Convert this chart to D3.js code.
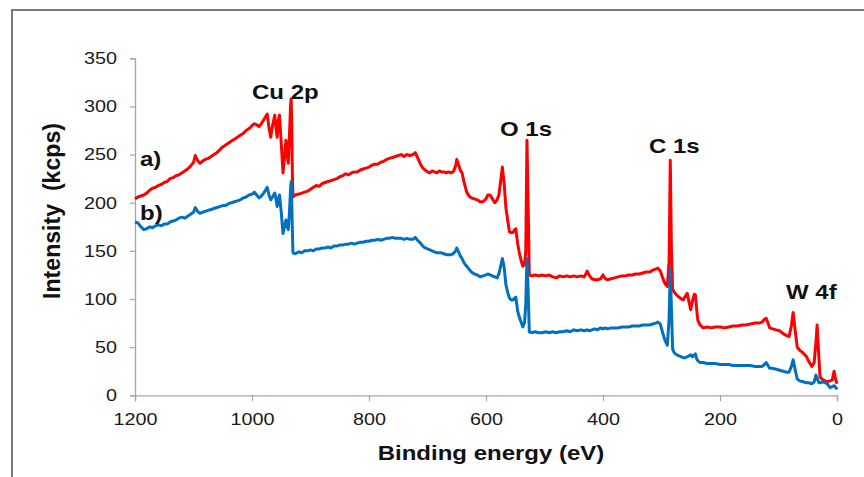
<!DOCTYPE html>
<html>
<head>
<meta charset="utf-8">
<script src="https://cdn.jsdelivr.net/npm/d3@7"></script>
<style>
  html, body { margin: 0; padding: 0; background: #fff; }
  svg { display: block; }
</style>
</head>
<body>
<svg id="chart" width="864" height="477"></svg>
<script>
// XPS survey spectra: a) and b), intensity in kcps versus binding energy in eV
const bindingEnergy = [
  1200, 1195, 1190, 1185, 1180, 1175, 1170, 1165, 1160, 1155,
  1150, 1145, 1140, 1135, 1130, 1125, 1120, 1115, 1110, 1105,
  1100, 1097, 1093, 1089, 1085, 1080, 1075, 1070, 1065, 1060,
  1055, 1050, 1045, 1040, 1035, 1030, 1025, 1020, 1015, 1010,
  1005, 1000, 996, 992, 988, 984, 980, 976, 974, 971,
  968, 965, 961, 959, 957, 955, 953, 950, 947, 944,
  942, 940, 938, 936, 934, 933, 932, 931, 930, 926,
  920, 915, 910, 905, 900, 895, 890, 885, 880, 875,
  870, 865, 860, 855, 850, 845, 840, 835, 830, 825,
  820, 815, 810, 805, 800, 795, 790, 785, 780, 775,
  770, 765, 760, 755, 750, 745, 740, 735, 730, 725,
  721, 717, 712, 708, 704, 700, 696, 692, 688, 684,
  680, 676, 672, 668, 664, 660, 656, 652, 650, 647,
  644, 641, 637, 633, 629, 625, 620, 615, 610, 605,
  600, 597, 593, 589, 585, 581, 578, 575, 572, 569,
  566, 563, 560, 557, 554, 551, 549, 546, 543, 540,
  537, 534, 532, 530, 528, 526, 522, 516, 510, 504,
  498, 492, 486, 480, 474, 468, 462, 456, 450, 444,
  438, 432, 427, 423, 419, 414, 410, 404, 400, 396,
  392, 386, 380, 374, 368, 362, 356, 350, 344, 338,
  332, 326, 320, 315, 310, 306, 302, 298, 294, 290,
  287, 285, 283, 281, 278, 274, 270, 266, 263, 259,
  256, 253, 250, 247, 244, 242, 240, 238, 234, 229,
  222, 215, 208, 200, 192, 185, 178, 170, 162, 155,
  148, 140, 134, 128, 124, 121, 118, 115, 110, 104,
  98, 92, 86, 82, 78, 75, 72, 68, 64, 58,
  52, 48, 43, 39, 36, 34, 31, 29, 24, 17,
  12, 8, 5, 3, 0
];

const intensityA = [
  204, 206, 207, 208, 210, 213, 215, 216, 218, 219,
  221, 222, 225, 226, 228, 229, 231, 233, 235, 238,
  242, 249, 244, 241, 243, 245, 246, 248, 250, 252,
  255, 258, 260, 262, 264, 266, 268, 270, 272, 275,
  277, 280, 282, 281, 279, 282, 286, 290, 292, 278,
  268, 280, 291, 278, 268, 285, 291, 262, 231, 250,
  265, 250, 241, 270, 302, 308, 280, 230, 206, 208,
  209, 210, 211, 212, 214, 216, 218, 217, 220, 221,
  222, 223, 224, 225, 227, 228, 230, 229, 231, 232,
  232, 234, 235, 236, 237, 239, 240, 240, 242, 243,
  245, 246, 247, 248, 249, 250, 248, 250, 249, 250,
  252, 247, 240, 236, 234, 232, 231, 233, 232, 231,
  233, 232, 232, 231, 232, 231, 232, 238, 245, 240,
  234, 231, 220, 211, 207, 205, 204, 203, 201, 201,
  204, 208, 208, 204, 200, 203, 208, 222, 237, 220,
  195, 182, 170, 169, 169, 172, 173, 158, 148, 140,
  134, 136, 150, 265, 200, 125, 124, 125, 124, 125,
  124, 125, 123, 122, 124, 123, 124, 123, 124, 123,
  124, 123, 129, 124, 121, 120, 120, 121, 125, 121,
  120, 121, 122, 123, 124, 124, 125, 125, 126, 126,
  127, 128, 128, 130, 131, 132, 129, 122, 116, 113,
  140, 244, 150, 110, 107, 104, 102, 100, 99, 103,
  106, 97, 89, 98, 105, 104, 90, 78, 73, 70,
  71, 70, 71, 71, 70, 71, 72, 72, 73, 73,
  74, 75, 75, 76, 79, 80, 75, 70, 69, 68,
  67, 64, 62, 61, 72, 86, 70, 50, 47, 44,
  40, 35, 30, 34, 55, 73, 40, 19, 16, 14,
  15, 16, 25, 18, 12
];

const intensityB = [
  180, 179, 175, 172, 173, 175, 174, 176, 177, 176,
  178, 178, 180, 181, 182, 184, 185, 184, 186, 188,
  190, 195, 191, 189, 190, 191, 192, 193, 194, 195,
  196, 197, 197, 199, 200, 201, 202, 203, 205, 206,
  208, 209, 211, 208, 205, 207, 210, 214, 216, 208,
  203, 206, 210, 204, 196, 204, 208, 190, 168, 176,
  182, 176, 172, 190, 215, 222, 200, 170, 148, 147,
  149, 148, 150, 150, 151, 150, 152, 152, 153, 153,
  154, 153, 155, 155, 156, 156, 157, 157, 158, 157,
  158, 159, 159, 160, 160, 161, 161, 162, 161, 162,
  163, 163, 164, 163, 163, 163, 162, 163, 162, 162,
  164, 161, 158, 155, 153, 152, 151, 150, 149, 148,
  148, 148, 147, 146, 146, 146, 147, 150, 153, 149,
  145, 142, 137, 134, 131, 128, 126, 125, 123, 124,
  125, 126, 125, 124, 123, 122, 126, 134, 142, 133,
  115, 107, 101, 99, 99, 101, 102, 88, 81, 76,
  71, 76, 95, 142, 110, 66, 65, 66, 65, 65,
  66, 65, 66, 65, 66, 66, 67, 66, 68, 67,
  68, 67, 68, 67, 68, 69, 68, 70, 69, 70,
  69, 70, 70, 70, 71, 71, 71, 72, 72, 72,
  73, 73, 73, 74, 75, 76, 74, 65, 57, 52,
  80, 132, 90, 48, 44, 42, 41, 40, 39, 39,
  40, 41, 42, 40, 42, 43, 38, 36, 34, 34,
  33, 33, 33, 32, 32, 32, 31, 31, 31, 31,
  31, 30, 30, 30, 32, 34, 31, 28, 28, 27,
  26, 25, 24, 24, 30, 37, 28, 17, 15, 14,
  13, 13, 12, 14, 21, 18, 13, 13, 14, 12,
  8, 9, 10, 9, 6
];

const xTickValues = [1200, 1000, 800, 600, 400, 200, 0];
const yTickValues = [0, 50, 100, 150, 200, 250, 300, 350];
const peakNames = ["Cu 2p", "O 1s", "C 1s", "W 4f"];
const sampleNames = ["a)", "b)"];

// ---- layout ----
const svg = d3.select("#chart");
const FONT = "'Liberation Sans', Arial, Helvetica, sans-serif";
const STRETCH = 1.2;          // horizontal widening of the lettering
const axisColor = "#a6a6a6";
const colorA = "#ff0000";
const colorB = "#0070c0";

// outer frame
svg.append("rect")
  .attr("x", 12).attr("y", 10)
  .attr("width", 880).attr("height", 500)
  .attr("fill", "none")
  .attr("stroke", "#5a5a5a")
  .attr("stroke-width", 1.6);

const x = d3.scaleLinear().domain([1200, 0]).range([135, 837]);
const y = d3.scaleLinear().domain([0, 350]).range([395.3, 58.3]);

// minor ticks
const xMinor = d3.range(0, 1201, 40).filter(v => v % 200 !== 0);
const yMinor = d3.range(0, 351, 10).filter(v => v % 50 !== 0);

const gx = svg.append("g").attr("transform", `translate(0,${y(0)})`);
gx.call(d3.axisBottom(x).tickValues(xMinor).tickSize(4).tickFormat(""));
gx.call(d3.axisBottom(x).tickValues(xTickValues).tickSize(6).tickPadding(12)
  .tickFormat(d3.format("d")));

const gy = svg.append("g").attr("transform", `translate(${x(1200)},0)`);
gy.call(d3.axisLeft(y).tickValues(yMinor).tickSize(3).tickFormat(""));
gy.call(d3.axisLeft(y).tickValues(yTickValues).tickSize(5).tickFormat(d3.format("d")));

[gx, gy].forEach(g => {
  g.selectAll("path.domain").attr("stroke", axisColor).attr("stroke-width", 1.3);
  g.selectAll(".tick line").attr("stroke", axisColor).attr("stroke-width", 1.2);
  g.selectAll(".tick text")
    .attr("fill", "#1a1a1a")
    .style("font-family", FONT)
    .style("font-size", "16.5px");
});
gx.selectAll(".tick text").attr("transform", `scale(${STRETCH},1)`);
gy.selectAll(".tick text")
  .attr("x", -18 / STRETCH)
  .attr("transform", `scale(${STRETCH},1)`);

// spectra: a) underneath, b) on top
const idx = d3.range(bindingEnergy.length);
const lineOf = values => d3.line()
  .x(i => x(bindingEnergy[i]))
  .y(i => y(values[i]));

svg.append("path")
  .attr("d", lineOf(intensityA)(idx))
  .attr("fill", "none")
  .attr("stroke", colorA)
  .attr("stroke-width", 3)
  .attr("stroke-linejoin", "round");

svg.append("path")
  .attr("d", lineOf(intensityB)(idx))
  .attr("fill", "none")
  .attr("stroke", colorB)
  .attr("stroke-width", 3)
  .attr("stroke-linejoin", "round");

// bold lettering, widened horizontally
function label(px, py, txt, anchor) {
  svg.append("text")
    .attr("transform", `translate(${px},${py}) scale(${STRETCH},1)`)
    .attr("text-anchor", anchor || "start")
    .attr("fill", "#111")
    .style("font-family", FONT)
    .style("font-weight", "bold")
    .style("font-size", "20px")
    .text(txt);
}

const peakLabelPos = [[252, 99], [500, 136], [649, 153], [786, 299]];
peakNames.forEach((n, i) => label(peakLabelPos[i][0], peakLabelPos[i][1], n));

const sampleLabelPos = [[140, 166], [140, 220]];
sampleNames.forEach((n, i) => label(sampleLabelPos[i][0], sampleLabelPos[i][1], n));

// axis titles
label(491, 460, "Binding energy (eV)", "middle");

svg.append("text")
  .attr("transform", "translate(60,211) rotate(-90) scale(1.1,1.15)")
  .attr("text-anchor", "middle")
  .attr("fill", "#111")
  .style("font-family", FONT)
  .style("font-weight", "bold")
  .style("font-size", "21px")
  .style("white-space", "pre")
  .text("Intensity  (kcps)");
</script>
</body>
</html>
